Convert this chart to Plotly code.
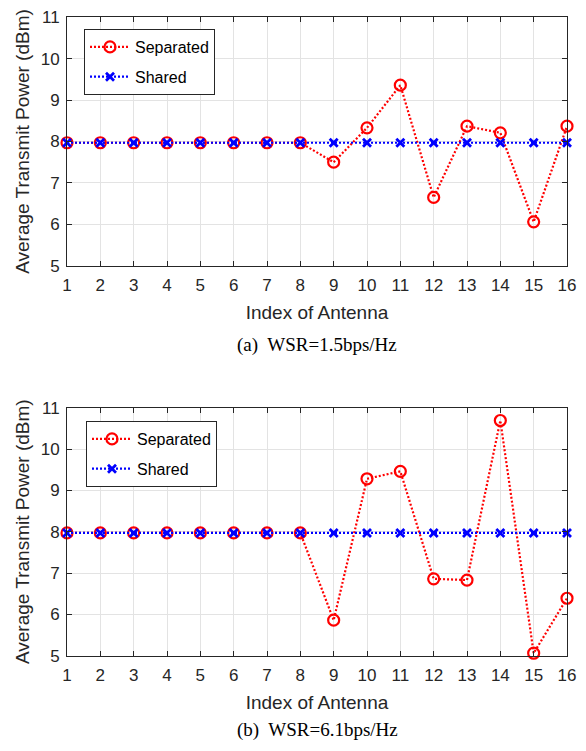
import plotly.graph_objects as go

antenna = list(range(1, 17))
sep_a = [7.97, 7.97, 7.97, 7.97, 7.97, 7.97, 7.97, 7.97, 7.50, 8.33, 9.36, 6.65, 8.37, 8.21, 6.06, 8.37]
shared_a = [7.97] * 16
sep_b = [7.97, 7.97, 7.97, 7.97, 7.97, 7.97, 7.97, 7.97, 5.86, 9.28, 9.46, 6.86, 6.83, 10.69, 5.06, 6.39]
shared_b = [7.97] * 16
x_ticks = list(range(1, 17))
y_ticks = [5, 6, 7, 8, 9, 10, 11]
captions = ["(a)  WSR=1.5bps/Hz", "(b)  WSR=6.1bps/Hz"]

W, H = 586, 751
FONT = "Liberation Sans, Arial, sans-serif"
AXC = "#262626"

fig = go.Figure()

def add_pair(sep, sh, xa, ya, leg, group_prefix):
    fig.add_trace(go.Scatter(
        x=antenna, y=sep, name="Separated", mode="lines+markers",
        line=dict(color="red", width=2.2, dash="2px,2px"),
        marker=dict(symbol="circle-open", size=11, color="red", line=dict(width=2.2, color="red")),
        xaxis=xa, yaxis=ya, legend=leg, legendgroup=group_prefix + "s", cliponaxis=False))
    fig.add_trace(go.Scatter(
        x=antenna, y=sh, name="Shared", mode="lines+markers",
        line=dict(color="blue", width=2.2, dash="2px,2px"),
        marker=dict(symbol="x-thin-open", size=8, color="blue", line=dict(width=2.8, color="blue")),
        xaxis=xa, yaxis=ya, legend=leg, legendgroup=group_prefix + "h", cliponaxis=False))

add_pair(sep_a, shared_a, "x", "y", "legend", "a")
add_pair(sep_b, shared_b, "x2", "y2", "legend2", "b")

def px_x(p):
    return p / W

def px_y(p):
    return 1 - p / H

top = (17.3, 265.7)
bot = (407.7, 655.7)
xdom = [px_x(67), px_x(567)]

axis_common = dict(
    showline=True, linecolor=AXC, linewidth=1, mirror="ticks",
    ticks="inside", ticklen=5, tickcolor=AXC, tickwidth=1,
    showgrid=True, gridcolor="#e3e3e3", gridwidth=1, zeroline=False,
    tickfont=dict(family=FONT, size=17, color=AXC), automargin=False,
)

xcommon = dict(axis_common, range=[1, 16], tickvals=x_ticks, ticklabelstandoff=4,
               title=dict(text="Index of Antenna", font=dict(family=FONT, size=19, color=AXC), standoff=11))
ycommon = dict(axis_common, range=[5, 11], tickvals=y_ticks, ticklabelstandoff=3,
               title=dict(text="Average Transmit Power (dBm)", font=dict(family=FONT, size=19, color=AXC), standoff=6))

legend_common = dict(
    bgcolor="white", bordercolor=AXC, borderwidth=1,
    font=dict(family=FONT, size=16, color="black"),
    xanchor="left", yanchor="top", tracegroupgap=6, itemwidth=40,
)

fig.update_layout(
    width=W, height=H,
    margin=dict(l=0, r=0, t=0, b=0),
    paper_bgcolor="white", plot_bgcolor="white",
    xaxis=dict(xcommon, domain=xdom, anchor="y"),
    yaxis=dict(ycommon, domain=[px_y(top[1]), px_y(top[0])], anchor="x"),
    xaxis2=dict(xcommon, domain=xdom, anchor="y2"),
    yaxis2=dict(ycommon, domain=[px_y(bot[1]), px_y(bot[0])], anchor="x2"),
    legend=dict(legend_common, x=px_x(84), y=px_y(29)),
    legend2=dict(legend_common, x=px_x(86), y=px_y(421)),
    showlegend=True,
)

for cap, yc in zip(captions, [345, 730]):
    fig.add_annotation(text=cap, xref="paper", yref="paper", x=px_x(317), y=px_y(yc),
                       xanchor="center", yanchor="middle", showarrow=False,
                       font=dict(family="Liberation Serif, Times New Roman, serif", size=19, color="black"))

fig.write_html("out.html", config={"displayModeBar": False},
               post_script="document.body.style.margin='0';document.body.style.overflow='hidden';")
